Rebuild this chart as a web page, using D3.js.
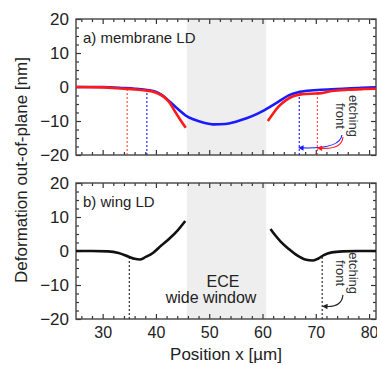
<!DOCTYPE html>
<html><head><meta charset="utf-8">
<script src="https://cdn.jsdelivr.net/npm/d3@7/dist/d3.min.js"></script>
<style>body{margin:0;background:#fff}svg{display:block;font-family:"Liberation Sans",Arial,sans-serif}</style>
</head><body>
<script>
// ---- data ----
const xDomain = [25, 81.3];
const yDomain = [-20, 20];
const xTicks = [30, 40, 50, 60, 70, 80];
const yTicks = [-20, -10, 0, 10, 20];
const windowRange = [45.8, 60.7];

// panel a, red (left / right of window)
const redLeftX = [25, 30, 34, 36, 38, 39.5, 40.5, 41.5, 42.5, 43.5, 44.5, 45.6];
const redLeftY = [0, -0.1, -0.5, -0.7, -1, -1.4, -2, -2.9, -4.5, -7, -9.5, -12];
const redRightX = [61, 62, 63, 64.5, 66, 67.5, 70, 71, 73, 76, 79, 81.3];
const redRightY = [-10, -7.8, -5.8, -3.8, -2.6, -2.1, -1.9, -1.8, -1.2, -0.8, -0.6, -0.5];
// panel a, blue (continuous)
const blueX = [25, 30, 34, 36, 38, 39.5, 40.5, 41.5, 42.5, 43.5, 44.5, 45.5, 47, 49, 51, 53, 55, 57, 59, 61, 63, 65, 66.5, 68, 71, 75, 78, 81.3];
const blueY = [0, 0, -0.3, -0.5, -0.8, -1.2, -1.8, -2.8, -4.2, -5.6, -7, -8.3, -9.5, -10.5, -11, -10.9, -10.2, -9.2, -7.9, -6.2, -4.3, -2.4, -1.6, -1.2, -0.8, -0.5, -0.3, -0.1];
// etching front markers panel a
const redFrontX = [34.6, 70.3];
const redFrontY = [-0.5, -1.9];
const blueFrontX = [38.3, 66.9];
const blueFrontY = [-0.9, -1.4];

// panel b, black
const wingLeftX = [25, 28, 31, 33, 34.9, 36, 37, 38, 39.5, 41, 42.5, 44, 45.5];
const wingLeftY = [0, 0, -0.1, -0.6, -1.7, -2.3, -2.5, -1.8, -0.5, 1.6, 3.6, 5.9, 8.8];
const wingRightX = [61.5, 62.5, 63.5, 65, 66.5, 68, 69.5, 70.5, 71.5, 73, 75, 78, 81.3];
const wingRightY = [6.5, 4.4, 2.6, 0.5, -1.3, -2.5, -2.8, -2.2, -1.2, -0.4, -0.1, 0, 0];
const wingFrontX = [35, 71.2];
const wingFrontY = [-1.8, -1.5];

// ---- layout ----
const W = 377, H = 365;
const L = 76, R = 376;
const panels = [{top: 19, bottom: 155}, {top: 183, bottom: 319}];
const RED = "#ff1a1a", BLUE = "#1a1aff";

const svg = d3.select("body").append("svg").attr("width", W).attr("height", H);
const x = d3.scaleLinear().domain(xDomain).range([L, R]);
const line = (ys) => d3.line().x(d => x(d[0])).y(d => ys(d[1])).curve(d3.curveMonotoneX);
const zip = (a, b) => a.map((v, i) => [v, b[i]]);

svg.append("defs").html(`
<marker id="ahB" viewBox="0 0 10 10" refX="2" refY="5" markerWidth="7" markerHeight="5" orient="auto-start-reverse"><path d="M0,0L10,5L0,10z" fill="${BLUE}"/></marker>
<marker id="ahR" viewBox="0 0 10 10" refX="2" refY="5" markerWidth="7" markerHeight="5" orient="auto-start-reverse"><path d="M0,0L10,5L0,10z" fill="${RED}"/></marker>
<marker id="ahK" viewBox="0 0 10 10" refX="2" refY="5" markerWidth="7" markerHeight="5" orient="auto-start-reverse"><path d="M0,0L10,5L0,10z" fill="#222"/></marker>`);

panels.forEach((p, i) => {
  const y = d3.scaleLinear().domain(yDomain).range([p.bottom, p.top]);
  p.y = y;
  const g = svg.append("g");
  g.append("rect").attr("x", x(windowRange[0])).attr("width", x(windowRange[1]) - x(windowRange[0]))
    .attr("y", p.top).attr("height", p.bottom - p.top).attr("fill", "#eeeeee");
  const tickCol = "#333";
  const xMinor = d3.range(26, 81.3, 2).filter(v => v % 10 !== 0);
  const yMinor = d3.range(-17.5, 20, 2.5).filter(v => v % 10 !== 0);
  const axB = d3.axisBottom(x).tickValues(xTicks).tickSize(-5).tickPadding(8).tickFormat(d3.format("d"));
  const gb = g.append("g").attr("transform", `translate(0,${p.bottom})`).call(axB);
  gb.append("g").call(d3.axisBottom(x).tickValues(xMinor).tickSize(-3).tickFormat(""));
  g.append("g").attr("transform", `translate(0,${p.top})`).call(d3.axisTop(x).tickValues(xTicks).tickSize(-5).tickFormat(""))
    .append("g").call(d3.axisTop(x).tickValues(xMinor).tickSize(-3).tickFormat(""));
  const gl = g.append("g").attr("transform", `translate(${L},0)`).call(d3.axisLeft(y).tickValues(yTicks).tickSize(-5).tickPadding(7));
  gl.append("g").call(d3.axisLeft(y).tickValues(yMinor).tickSize(-3).tickFormat(""));
  g.append("g").attr("transform", `translate(${R},0)`).call(d3.axisRight(y).tickValues(yTicks).tickSize(-5).tickFormat(""))
    .append("g").call(d3.axisRight(y).tickValues(yMinor).tickSize(-3).tickFormat(""));
  g.selectAll(".domain").remove();
  g.selectAll(".tick line").attr("stroke", tickCol).attr("stroke-width", 1.2);
  g.selectAll(".tick text").attr("font-size", 17).attr("fill", "#222").attr("font-family", "Liberation Sans, Arial, sans-serif");
  gb.selectAll(".tick text").attr("font-size", 16);
  if (i === 0) gb.selectAll(".tick text").remove();
  g.append("rect").attr("x", L).attr("y", p.top).attr("width", R - L).attr("height", p.bottom - p.top)
    .attr("fill", "none").attr("stroke", "#444").attr("stroke-width", 1.4);
});

// ---- panel a ----
{
  const y = panels[0].y, g = svg.append("g");
  const fronts = [[redFrontX, redFrontY, "#ff4040"], [blueFrontX, blueFrontY, BLUE]];
  fronts.forEach(([fx, fy, c]) => fx.forEach((v, i) => g.append("line")
    .attr("x1", x(v)).attr("x2", x(v)).attr("y1", y(-20)).attr("y2", y(fy[i]))
    .attr("stroke", c).attr("stroke-width", 1.1).attr("stroke-dasharray", "2,2")));
  g.append("path").datum(zip(blueX, blueY)).attr("d", line(y)).attr("fill", "none").attr("stroke", BLUE).attr("stroke-width", 2.6);
  [[redLeftX, redLeftY], [redRightX, redRightY]].forEach(([a, b]) =>
    g.append("path").datum(zip(a, b)).attr("d", line(y)).attr("fill", "none").attr("stroke", RED).attr("stroke-width", 2.6));
  g.append("text").attr("x", 83).attr("y", 43).attr("font-size", 15).attr("fill", "#222").text("a) membrane LD");
  const tg = g.append("g").attr("transform", `translate(${x(75.5)},${y(-8.5)}) rotate(90)`);
  tg.append("text").attr("x", 0).attr("y", -4).attr("text-anchor", "middle").attr("font-size", 13).attr("fill", "#333").text("etching");
  tg.append("text").attr("x", 0).attr("y", 9).attr("text-anchor", "middle").attr("font-size", 13).attr("fill", "#333").text("front");
  const arr = (x0, y0, cx, cy, x1, y1, col, m) => g.append("path")
    .attr("d", `M${x(x0)},${y(y0)}Q${x(cx)},${y(cy)} ${x(x1)},${y(y1)}`)
    .attr("fill", "none").attr("stroke", col).attr("stroke-width", 1.1).attr("marker-end", `url(#${m})`);
  arr(74.9, -14.1, 74.6, -18.2, 67.5, -17.9, BLUE, "ahB");
  arr(75.1, -14.7, 74.9, -18.4, 71.0, -18.0, RED, "ahR");
}

// ---- panel b ----
{
  const y = panels[1].y, g = svg.append("g");
  wingFrontX.forEach((v, i) => g.append("line")
    .attr("x1", x(v)).attr("x2", x(v)).attr("y1", y(-20)).attr("y2", y(wingFrontY[i]))
    .attr("stroke", "#222").attr("stroke-width", 1.1).attr("stroke-dasharray", "2,2"));
  [[wingLeftX, wingLeftY], [wingRightX, wingRightY]].forEach(([a, b]) =>
    g.append("path").datum(zip(a, b)).attr("d", line(y)).attr("fill", "none").attr("stroke", "#111").attr("stroke-width", 2.6));
  g.append("text").attr("x", 83).attr("y", 207).attr("font-size", 15).attr("fill", "#222").text("b) wing LD");
  g.append("text").attr("x", 223).attr("y", 287).attr("text-anchor", "middle").attr("font-size", 16).attr("fill", "#222").text("ECE");
  g.append("text").attr("x", 211).attr("y", 303).attr("text-anchor", "middle").attr("font-size", 16).attr("fill", "#222").text("wide window");
  const tg = g.append("g").attr("transform", `translate(${x(75.5)},${y(-6.5)}) rotate(90)`);
  tg.append("text").attr("x", 0).attr("y", -4).attr("text-anchor", "middle").attr("font-size", 13).attr("fill", "#333").text("etching");
  tg.append("text").attr("x", 0).attr("y", 9).attr("text-anchor", "middle").attr("font-size", 13).attr("fill", "#333").text("front");
  g.append("path").attr("d", `M${x(75.1)},${y(-12.9)}Q${x(74.9)},${y(-16.5)} ${x(72.0)},${y(-16.3)}`)
    .attr("fill", "none").attr("stroke", "#222").attr("stroke-width", 1.1).attr("marker-end", "url(#ahK)");
}

// axis titles
svg.append("text").attr("x", 226).attr("y", 360).attr("text-anchor", "middle").attr("font-size", 17).attr("fill", "#222").text("Position x [µm]");
svg.append("text").attr("transform", "translate(27,170) rotate(-90)").attr("text-anchor", "middle").attr("font-size", 17).attr("fill", "#222").text("Deformation out-of-plane [nm]");
</script>
</body></html>
